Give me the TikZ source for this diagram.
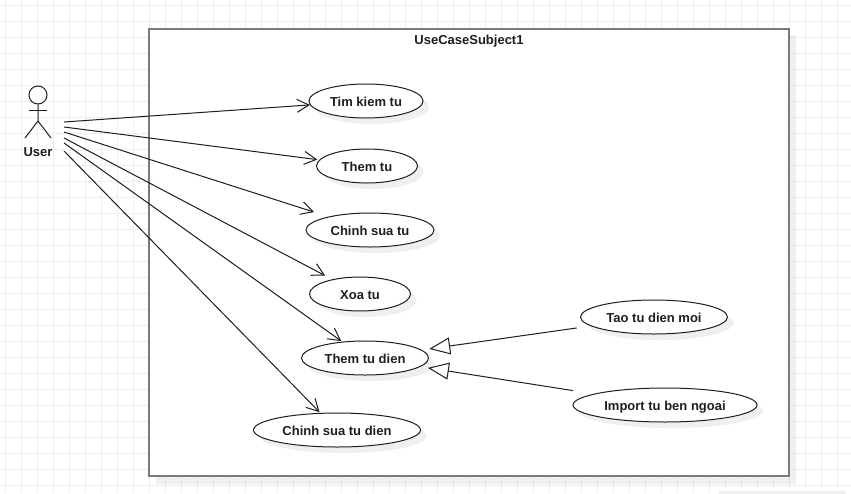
\documentclass[tikz,border=0pt]{standalone}
\usepackage{fontspec}
\setmainfont{Liberation Sans}
\usepackage{xcolor}
\usetikzlibrary{arrows.meta, shapes.geometric, shadows}
\definecolor{rejilla}{HTML}{EEEEEE}
\definecolor{sombra}{HTML}{EFEFEF}
\definecolor{marco}{HTML}{7A7A7A}
\definecolor{tinta}{HTML}{1E1E1E}
\tikzset{
  every picture/.style={font=\bfseries\fontsize{13}{15}\selectfont},
  usecase/.style={ellipse, draw=tinta, fill=white, line width=1pt, inner sep=0pt, minimum height=34pt,
                  text=tinta, text height=11.5pt, text depth=0pt,
                  drop shadow={shadow xshift=6pt, shadow yshift=-6pt, fill=sombra, opacity=1}},
  assoc/.style={-{Straight Barb[length=12pt, width=13pt]}, tinta, line width=1pt},
  gener/.style={-{Triangle[open, fill=white, length=21pt, width=17pt]}, tinta, line width=1pt, shorten >=7.5pt},
  stick/.style={tinta, line width=1pt},
}
\begin{document}
\begin{tikzpicture}[x=1pt, y=-1pt]
  \useasboundingbox (0,0) rectangle (851,493);
  % rejilla del fondo
  \foreach \gx in {5.5,21.5,...,853} {\draw[rejilla, line width=1pt] (\gx,0) -- (\gx,493);}
  \foreach \gy in {5.5,21.5,...,486} {\draw[rejilla, line width=1pt] (0,\gy) -- (851,\gy);}
  \fill[sombra, rounded corners=2pt] (718,491) rectangle (846,496);
  % subject
  \fill[black, opacity=0.06] (156,35) rectangle (796,484);
  \node[draw=marco, fill=white, line width=2pt, minimum width=640pt, minimum height=447pt, inner sep=0pt] (subject) at (469,252.5) {};
  \node[text=tinta] (subjectname) at (469,41.5) {UseCaseSubject1};
  % actor
  \node[circle, draw=tinta, line width=1pt, fill=white, minimum size=18pt, inner sep=0pt] (head) at (38,95) {};
  \coordinate (neck) at (38,110);
  \coordinate (hip) at (38,121);
  \coordinate (armL) at (29,110);
  \coordinate (armR) at (47,110);
  \coordinate (legL) at (25,138);
  \coordinate (legR) at (51,138);
  \draw[stick] (head.south) -- (hip) -- (legL);
  \draw[stick] (hip) -- (legR);
  \draw[stick] (armL) -- (armR);
  \node[text=tinta] (user) at (38,152) {User};
  % use cases
  \node[usecase, minimum width=114pt] (timkiem) at (366,101) {Tim kiem tu};
  \node[usecase, minimum width=101pt] (themtu) at (367,166) {Them tu};
  \node[usecase, minimum width=128pt] (chinhsua) at (370,230) {Chinh sua tu};
  \node[usecase, minimum width=101pt] (xoatu) at (360,294) {Xoa tu};
  \node[usecase, minimum width=127pt] (themdien) at (365,358) {Them tu dien};
  \node[usecase, minimum width=167pt] (chinhdien) at (337,430) {Chinh sua tu dien};
  \node[usecase, minimum width=147pt] (taomoi) at (654,317) {Tao tu dien moi};
  \node[usecase, minimum width=184pt] (importtu) at (665,405) {Import tu ben ngoai};
  % associations
  \foreach \i/\y/\uc/\gap in {1/122/timkiem/0,2/127/themtu/2,3/132/chinhsua/15,4/138/xoatu/8,5/143/themdien/1,6/151/chinhdien/1} {
    \coordinate (from\i) at (64,\y);
    \draw[assoc, shorten >=\gap pt] (from\i) -- (\uc);
  }
  \draw[gener, shorten <=14pt] (taomoi) -- (themdien);
  \draw[gener, shorten <=21pt] (importtu) -- (themdien);
\end{tikzpicture}
\end{document}
